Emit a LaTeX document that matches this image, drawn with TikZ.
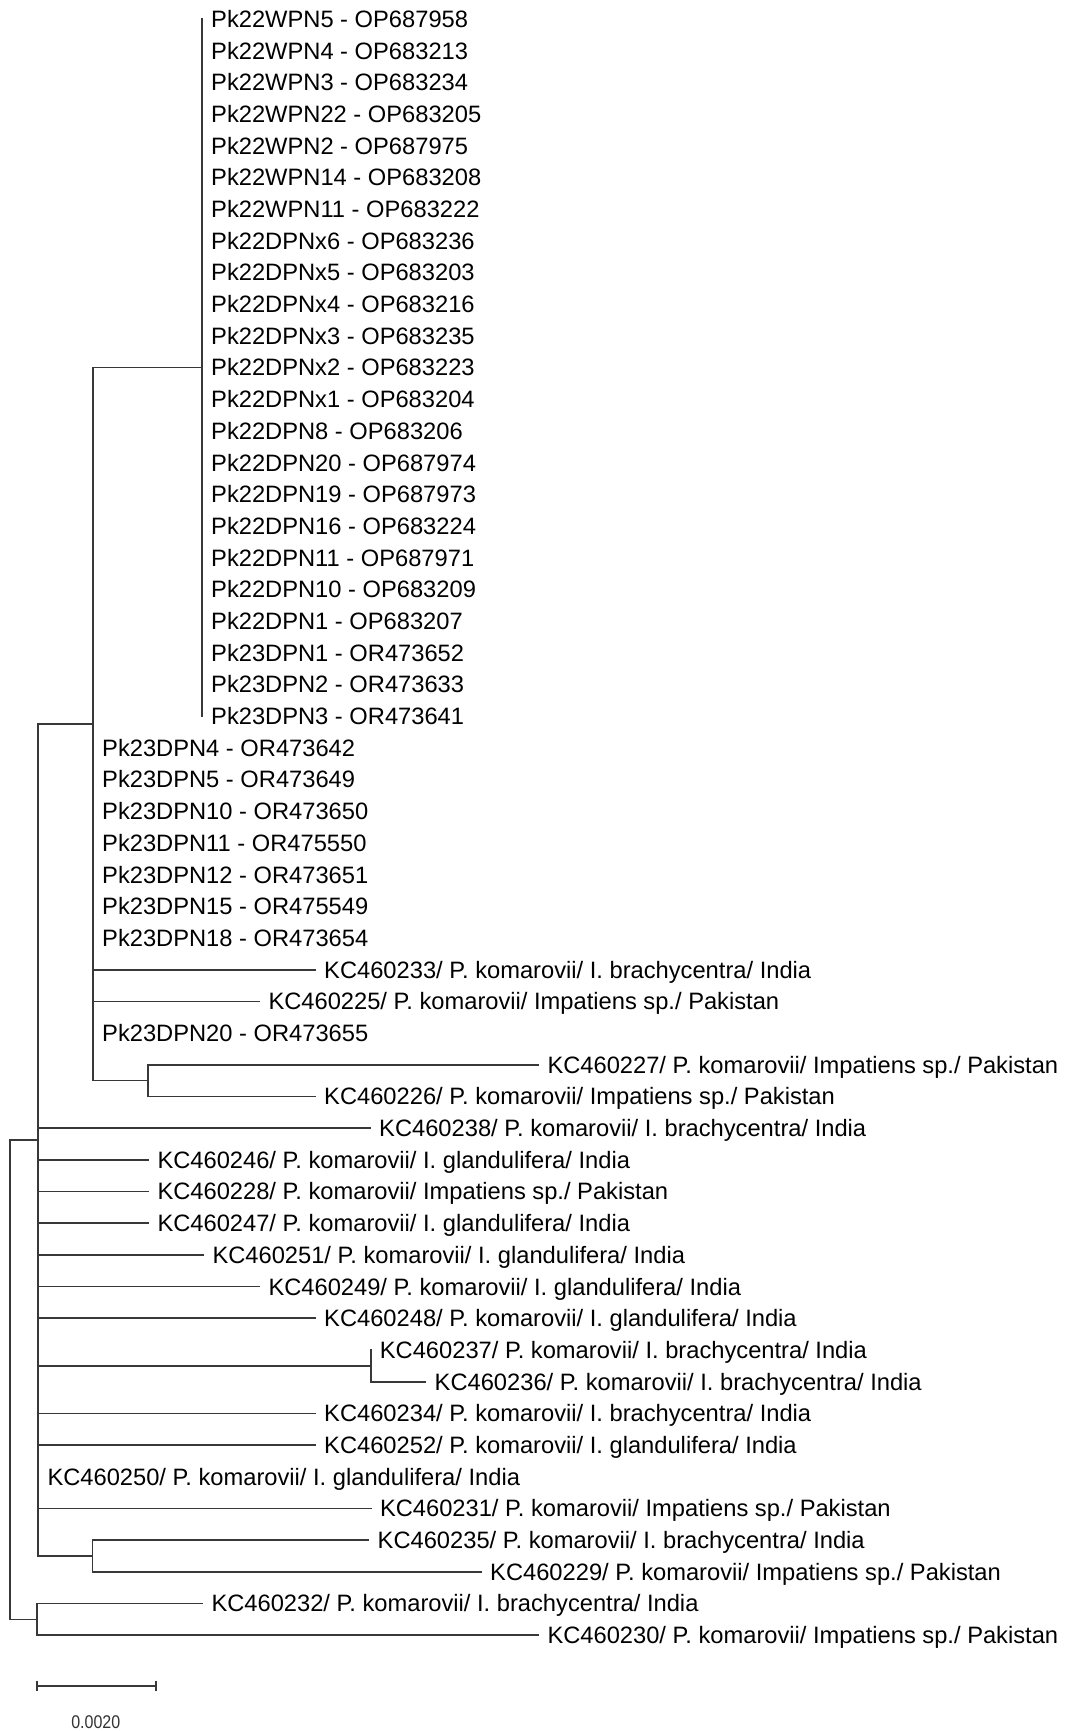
\documentclass[tikz,border=0pt]{standalone}
\usepackage{fontspec}
\setmainfont{Liberation Sans}
\newfontfamily\barfont[FakeStretch=0.87]{Liberation Sans}
\begin{document}
\begin{tikzpicture}[x=0.5pt,y=-0.5pt,
  br/.style={draw=black!78,line width=0.85pt,line cap=rect},
  lab/.style={anchor=west,inner sep=0pt,text height=8.4pt,text depth=0pt,
    font=\fontsize{11.85}{14}\selectfont,text=black},
  barlab/.style={inner sep=0pt,font=\barfont\fontsize{9.2}{11}\selectfont,text=black!80}]
\fill[white] (0,0) rectangle (1065,1731);
\useasboundingbox (0,0) rectangle (1065,1731);
\newcommand\leaf[3]{%
  \coordinate (t#1) at (#2,{19+31.69*#1});
  \node[lab] (l#1) at ([xshift=4.4pt]t#1) {#3};}
% internal nodes
\coordinate (F) at (202,367.6);
\coordinate (G) at (147.7,1080.6);
\coordinate (C) at (93,724.1);
\coordinate (D) at (370.7,1365.9);
\coordinate (E) at (92.5,1556.0);
\coordinate (A) at (38.3,1140.0);
\coordinate (B) at (36.7,1619.4);
\coordinate (R) at (10.3,1379.7);
% leaves
\leaf{0}{202}{Pk22WPN5 - OP687958}
\leaf{1}{202}{Pk22WPN4 - OP683213}
\leaf{2}{202}{Pk22WPN3 - OP683234}
\leaf{3}{202}{Pk22WPN22 - OP683205}
\leaf{4}{202}{Pk22WPN2 - OP687975}
\leaf{5}{202}{Pk22WPN14 - OP683208}
\leaf{6}{202}{Pk22WPN11 - OP683222}
\leaf{7}{202}{Pk22DPNx6 - OP683236}
\leaf{8}{202}{Pk22DPNx5 - OP683203}
\leaf{9}{202}{Pk22DPNx4 - OP683216}
\leaf{10}{202}{Pk22DPNx3 - OP683235}
\leaf{11}{202}{Pk22DPNx2 - OP683223}
\leaf{12}{202}{Pk22DPNx1 - OP683204}
\leaf{13}{202}{Pk22DPN8 - OP683206}
\leaf{14}{202}{Pk22DPN20 - OP687974}
\leaf{15}{202}{Pk22DPN19 - OP687973}
\leaf{16}{202}{Pk22DPN16 - OP683224}
\leaf{17}{202}{Pk22DPN11 - OP687971}
\leaf{18}{202}{Pk22DPN10 - OP683209}
\leaf{19}{202}{Pk22DPN1 - OP683207}
\leaf{20}{202}{Pk23DPN1 - OR473652}
\leaf{21}{202}{Pk23DPN2 - OR473633}
\leaf{22}{202}{Pk23DPN3 - OR473641}
\leaf{23}{93}{Pk23DPN4 - OR473642}
\leaf{24}{93}{Pk23DPN5 - OR473649}
\leaf{25}{93}{Pk23DPN10 - OR473650}
\leaf{26}{93}{Pk23DPN11 - OR475550}
\leaf{27}{93}{Pk23DPN12 - OR473651}
\leaf{28}{93}{Pk23DPN15 - OR475549}
\leaf{29}{93}{Pk23DPN18 - OR473654}
\leaf{30}{315}{KC460233/ P. komarovii/ I. brachycentra/ India}
\leaf{31}{259.3}{KC460225/ P. komarovii/ Impatiens sp./ Pakistan}
\leaf{32}{93}{Pk23DPN20 - OR473655}
\leaf{33}{538.3}{KC460227/ P. komarovii/ Impatiens sp./ Pakistan}
\leaf{34}{315}{KC460226/ P. komarovii/ Impatiens sp./ Pakistan}
\leaf{35}{370}{KC460238/ P. komarovii/ I. brachycentra/ India}
\leaf{36}{148.3}{KC460246/ P. komarovii/ I. glandulifera/ India}
\leaf{37}{148.3}{KC460228/ P. komarovii/ Impatiens sp./ Pakistan}
\leaf{38}{148.3}{KC460247/ P. komarovii/ I. glandulifera/ India}
\leaf{39}{203.3}{KC460251/ P. komarovii/ I. glandulifera/ India}
\leaf{40}{259.3}{KC460249/ P. komarovii/ I. glandulifera/ India}
\leaf{41}{315}{KC460248/ P. komarovii/ I. glandulifera/ India}
\leaf{42}{370.7}{KC460237/ P. komarovii/ I. brachycentra/ India}
\leaf{43}{425.5}{KC460236/ P. komarovii/ I. brachycentra/ India}
\leaf{44}{315}{KC460234/ P. komarovii/ I. brachycentra/ India}
\leaf{45}{315}{KC460252/ P. komarovii/ I. glandulifera/ India}
\leaf{46}{38.3}{KC460250/ P. komarovii/ I. glandulifera/ India}
\leaf{47}{370.8}{KC460231/ P. komarovii/ Impatiens sp./ Pakistan}
\leaf{48}{368.5}{KC460235/ P. komarovii/ I. brachycentra/ India}
\leaf{49}{481}{KC460229/ P. komarovii/ Impatiens sp./ Pakistan}
\leaf{50}{202.3}{KC460232/ P. komarovii/ I. brachycentra/ India}
\leaf{51}{538.3}{KC460230/ P. komarovii/ Impatiens sp./ Pakistan}
% branches
\draw[br] (t0) -- (t22);
\draw[br] (F) -| (C) |- (G);
\foreach \i in {30,31} \draw[br] (C |- t\i) -- (t\i);
\draw[br] (t33) -| (G) |- (t34);
\draw[br] (C) -| (A) |- (E);
\foreach \i in {35,36,37,38,39,40,41,44,45,47} \draw[br] (A |- t\i) -- (t\i);
\draw[br] (A |- D) -- (D);
\draw[br] (t42) -| (D) |- (t43);
\draw[br] (t48) -| (E) |- (t49);
\draw[br] (t50) -| (B) |- (t51);
\draw[br] (A) -| (R) |- (B);
% scale bar
\coordinate (s1) at (36.7,1685.7);
\coordinate (s2) at (155.7,1685.7);
\draw[br,line cap=butt] (s1) -- (s2);
\draw[br,line cap=butt] ([yshift=2.5pt]s1) -- ([yshift=-2.5pt]s1);
\draw[br,line cap=butt] ([yshift=2.5pt]s2) -- ([yshift=-2.5pt]s2);
\node[barlab] (sl) at (95.8,1721.7) {0.0020};
\end{tikzpicture}
\end{document}
